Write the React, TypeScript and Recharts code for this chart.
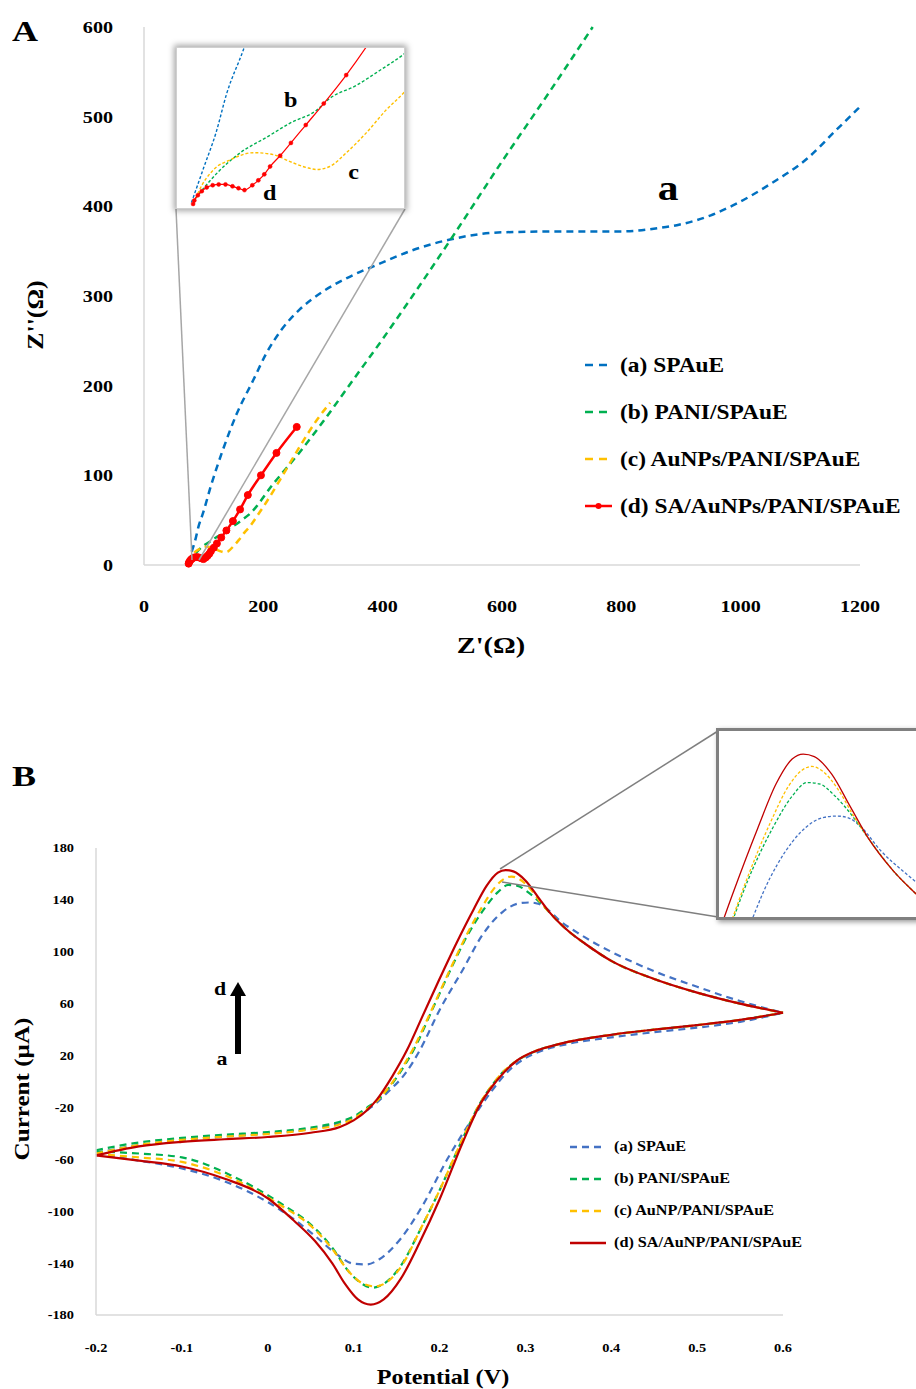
import React from 'react';
import { LineChart, Line, XAxis, YAxis } from 'recharts';

type P = [number, number][];

// ---------- Panel A: Nyquist data (Z', Z'') ----------
const nyqA: P = [[74, 2], [80, 15], [86, 28], [91, 42], [99, 58], [112, 88], [132, 128], [155, 168], [183, 206], [205, 236], [230, 262], [261, 285], [300, 305], [340, 320], [395, 336], [450, 351], [513, 363], [600, 371], [700, 372], [800, 372], [865, 376], [893, 379], [950, 390], [987, 401], [1050, 425], [1111, 453], [1160, 485], [1200, 511]];
const nyqB: P = [[74.7, 2.2], [79.5, 6.9], [86.7, 13.1], [97.7, 20.4], [110.7, 26.2], [121.8, 31.3], [134.7, 36.1], [141, 40.4], [153.9, 45.2], [165, 50.6], [177, 56.8], [216, 90], [260, 125], [298, 158], [350, 206], [400, 252], [450, 300], [513, 362], [600, 450], [680, 528], [752, 600]];
const nyqC: P = [[75.2, 1.8], [77.6, 6.2], [84.8, 14.2], [92.9, 17.8], [104, 20.4], [113.6, 19.7], [121.8, 17.1], [129.9, 14.9], [134.7, 14.2], [141, 15.3], [149.1, 20.4], [158.7, 27.7], [168.3, 36.1], [177, 42.6], [190, 55], [205, 70], [228, 95], [261, 132], [290, 162], [312, 181]];
const nyqD: P = [[74.8, 1.5], [75.4, 2.8], [77.1, 4.7], [79, 6.2], [81.4, 7.6], [84.3, 8.4], [87.2, 8.7], [90.5, 8.7], [93.9, 8], [96.8, 7.3], [99.7, 6.6], [103.5, 8.4], [106.4, 10.2], [109.3, 12.4], [112.1, 15.3], [117, 19.3], [122.2, 24], [129.4, 30.6], [138.1, 38.5], [149, 49], [161, 62], [174, 78], [196, 100], [222, 125], [256, 154]];

const nyqXTicks = [0, 200, 400, 600, 800, 1000, 1200];
const nyqYTicks = [0, 100, 200, 300, 400, 500, 600];

// ---------- Panel B: CV data (Potential V, Current µA) ----------
const cvA_fwd: P = [[-0.2, -55], [-0.15, -49], [-0.1, -45], [-0.05, -42.5], [0, -40], [0.05, -36.5], [0.08, -32.5], [0.1, -28], [0.12, -20], [0.14, -8], [0.16, 6], [0.177, 24], [0.2, 55], [0.227, 86], [0.25, 113], [0.274, 131], [0.294, 137.5], [0.305, 138], [0.315, 137], [0.324, 133.6], [0.34, 124], [0.36, 115], [0.38, 107], [0.4, 100], [0.45, 85], [0.5, 73], [0.55, 62], [0.6, 53]];
const cvA_rev: P = [[-0.2, -56], [-0.15, -61], [-0.1, -67], [-0.05, -77], [0, -93], [0.03, -106], [0.055, -119], [0.08, -133], [0.1, -140.5], [0.115, -141], [0.13, -137], [0.155, -121], [0.18, -96], [0.209, -60], [0.239, -28], [0.26, -8], [0.28, 8], [0.3, 18], [0.32, 24], [0.35, 29], [0.4, 34], [0.45, 38], [0.5, 41.5], [0.55, 46], [0.6, 53]];
const cvB_fwd: P = [[-0.2, -53], [-0.15, -47], [-0.1, -43.5], [-0.05, -41], [0, -39], [0.05, -35.5], [0.084, -31], [0.1, -27], [0.116, -20], [0.13, -13], [0.152, 5], [0.172, 27], [0.192, 56], [0.212, 85], [0.232, 112], [0.252, 133], [0.268, 146], [0.28, 151.5], [0.29, 151], [0.303, 146], [0.317, 138], [0.33, 129], [0.35, 116], [0.37, 106], [0.4, 93], [0.45, 79], [0.5, 68.5], [0.55, 60], [0.6, 53]];
const cvB_rev: P = [[-0.2, -54], [-0.15, -55.5], [-0.1, -58.5], [-0.044, -72], [0.014, -93.5], [0.053, -112], [0.075, -128], [0.095, -147], [0.11, -156], [0.122, -159], [0.135, -156], [0.155, -142], [0.177, -115], [0.2, -84], [0.227, -44], [0.247, -17], [0.26, -4], [0.275, 8], [0.29, 16], [0.31, 23], [0.34, 29], [0.4, 36], [0.45, 40], [0.5, 43.5], [0.55, 47.5], [0.6, 53]];
const cvC_fwd: P = [[-0.2, -55.5], [-0.15, -49], [-0.1, -45], [-0.05, -42.5], [0, -40.5], [0.05, -37], [0.084, -33], [0.1, -28.5], [0.116, -21], [0.13, -13], [0.15, 4], [0.17, 26], [0.19, 54], [0.21, 83], [0.23, 111], [0.25, 135], [0.265, 150], [0.276, 156.5], [0.284, 158], [0.293, 156], [0.305, 149], [0.318, 138], [0.33, 129], [0.35, 116], [0.37, 106], [0.4, 93], [0.45, 79], [0.5, 68.5], [0.55, 60], [0.6, 53]];
const cvC_rev: P = [[-0.2, -56], [-0.15, -58.5], [-0.1, -62], [-0.044, -74], [0.014, -95], [0.053, -113], [0.075, -129], [0.095, -147], [0.11, -155.5], [0.125, -158], [0.14, -154], [0.157, -141], [0.177, -115], [0.2, -84], [0.227, -44], [0.247, -17], [0.26, -4], [0.275, 8], [0.29, 16], [0.31, 23], [0.34, 29], [0.4, 36], [0.45, 40], [0.5, 43.5], [0.55, 47.5], [0.6, 53]];
const cvD_fwd: P = [[-0.2, -57], [-0.15, -50], [-0.1, -46.5], [-0.05, -44.5], [0, -42.8], [0.05, -39.5], [0.084, -35], [0.1, -30], [0.116, -22], [0.127, -14], [0.145, 4], [0.162, 24], [0.18, 50], [0.2, 79], [0.22, 107], [0.24, 133], [0.255, 151], [0.268, 161], [0.277, 163], [0.286, 162], [0.3, 155], [0.315, 142], [0.33, 129], [0.35, 116], [0.37, 106], [0.4, 93], [0.45, 79], [0.5, 68.5], [0.55, 60], [0.6, 53]];
const cvD_rev: P = [[-0.2, -57], [-0.15, -61], [-0.1, -65.5], [-0.05, -75], [0, -90], [0.03, -107], [0.055, -123], [0.075, -140], [0.09, -156], [0.105, -168], [0.12, -172], [0.135, -168], [0.155, -152], [0.177, -124], [0.2, -91], [0.227, -47], [0.247, -18], [0.26, -5], [0.275, 7], [0.29, 16], [0.31, 23], [0.34, 29], [0.4, 36], [0.45, 40], [0.5, 43.5], [0.55, 47.5], [0.6, 53]];

const cvXTicks = [-0.2, -0.1, 0, 0.1, 0.2, 0.3, 0.4, 0.5, 0.6];
const cvYTicks = [-180, -140, -100, -60, -20, 20, 60, 100, 140, 180];

const legendA = ['(a) SPAuE', '(b) PANI/SPAuE', '(c) AuNPs/PANI/SPAuE', '(d) SA/AuNPs/PANI/SPAuE'];
const legendB = ['(a) SPAuE', '(b) PANI/SPAuE', '(c) AuNP/PANI/SPAuE', '(d) SA/AuNP/PANI/SPAuE'];

const colA = ['#0070C0', '#00B050', '#FFC000', '#FF0000'];
const colB = ['#4472C4', '#00B050', '#FFC000', '#C00000'];

const FONT = "'Liberation Serif', 'Times New Roman', serif";
const pts = (arr: P) => arr.map(([x, y]) => ({ x, y }));

const makeTick = (size: number, sx: number) => (props: any) => {
  const { x, y, payload, textAnchor, verticalAnchor } = props;
  const dy = verticalAnchor === 'start' ? '0.71em' : '0.355em';
  return (
    <text transform={`translate(${x},${y}) scale(${sx},1)`} x={0} y={0} dy={dy} textAnchor={textAnchor}
      fontFamily={FONT} fontWeight={700} fontSize={size} fill="#000">{String(payload.value)}</text>
  );
};

const abs = (left: number, top: number, extra: React.CSSProperties = {}): React.CSSProperties => ({
  position: 'absolute', left, top, ...extra,
});

const txt = (size: number): React.CSSProperties => ({
  fontFamily: FONT, fontWeight: 700, fontSize: size, whiteSpace: 'nowrap', lineHeight: 1,
});

function LegendRow({ label, color, dash, dot, fontSize, width, sx }: { label: string; color: string; dash?: string; dot?: boolean; fontSize: number; width: number; sx: number }) {
  return (
    <div style={{ display: 'flex', alignItems: 'center', height: fontSize + 4 }}>
      <svg width={width} height={10} style={{ marginRight: 8 }}>
        <line x1={0} y1={5} x2={width} y2={5} stroke={color} strokeWidth={2.5} strokeDasharray={dash} />
        {dot && <circle cx={width / 2} cy={5} r={3} fill={color} />}
      </svg>
      <span style={{ ...txt(fontSize), display: 'inline-block', transform: `scaleX(${sx})`, transformOrigin: 'left center' }}>{label}</span>
    </div>
  );
}

export default function App() {
  const nyqSeries = [nyqA, nyqB, nyqC, nyqD];
  const cvSeries: [P, P][] = [[cvA_fwd, cvA_rev], [cvB_fwd, cvB_rev], [cvC_fwd, cvC_rev], [cvD_fwd, cvD_rev]];

  return (
    <div style={{ position: 'absolute', left: 0, top: 0, width: 916, height: 1389, overflow: 'hidden', background: '#fff' }}>
      {/* Panel A main */}
      <div style={abs(0, 0)}>
        <LineChart width={916} height={680} margin={{ top: 27, right: 56, bottom: 0, left: 0 }}>
          <XAxis type="number" dataKey="x" domain={[0, 1200]} ticks={nyqXTicks} interval={0} height={115}
            axisLine={{ stroke: '#d9d9d9', strokeWidth: 1.5 }} tickLine={false} tickSize={0} tickMargin={35} tick={makeTick(16.5, 1.22)} />
          <YAxis type="number" dataKey="y" domain={[0, 600]} ticks={nyqYTicks} interval={0} width={144}
            axisLine={{ stroke: '#d9d9d9', strokeWidth: 1.5 }} tickLine={false} tickSize={0} tickMargin={31} tick={makeTick(16.5, 1.22)} />
          {nyqSeries.map((s, i) => (
            <Line key={i} data={pts(s)} dataKey="y" type="monotone" stroke={colA[i]} strokeWidth={2.5}
              strokeDasharray={i === 3 ? undefined : '7 5'}
              dot={i === 3 ? { r: 3.5, fill: colA[3], stroke: colA[3], strokeWidth: 1 } : false}
              isAnimationActive={false} />
          ))}
        </LineChart>
      </div>

      {/* Panel B main */}
      <div style={abs(0, 780)}>
        <LineChart width={916} height={609} margin={{ top: 68, right: 133, bottom: 0, left: 0 }}>
          <XAxis type="number" dataKey="x" domain={[-0.2, 0.6]} ticks={cvXTicks} interval={0} height={74}
            axisLine={{ stroke: '#d9d9d9', strokeWidth: 1.5 }} tickLine={false} tickSize={0} tickMargin={28} tick={makeTick(12.5, 1.15)} />
          <YAxis type="number" dataKey="y" domain={[-180, 180]} ticks={cvYTicks} interval={0} width={96}
            axisLine={{ stroke: '#d9d9d9', strokeWidth: 1.5 }} tickLine={false} tickSize={0} tickMargin={22} tick={makeTick(12.5, 1.15)} />
          {cvSeries.map(([f, r], i) => [
            <Line key={'f' + i} data={pts(f)} dataKey="y" type="monotone" stroke={colB[i]} strokeWidth={2.2}
              strokeDasharray={i === 3 ? undefined : '7 5'} dot={false} isAnimationActive={false} />,
            <Line key={'r' + i} data={pts(r)} dataKey="y" type="monotone" stroke={colB[i]} strokeWidth={2.2}
              strokeDasharray={i === 3 ? undefined : '7 5'} dot={false} isAnimationActive={false} />,
          ])}
        </LineChart>
      </div>

      {/* connectors and arrow */}
      <svg width={916} height={1389} style={abs(0, 0, { pointerEvents: 'none' })}>
        <line x1={176} y1={209} x2={192} y2={560} stroke="#a6a6a6" strokeWidth={1.5} />
        <line x1={405} y1={209} x2={199} y2={560} stroke="#a6a6a6" strokeWidth={1.5} />
        <line x1={500} y1={869} x2={718} y2={731} stroke="#7f7f7f" strokeWidth={1.5} />
        <line x1={502} y1={882} x2={718} y2={917} stroke="#7f7f7f" strokeWidth={1.5} />
        <rect x={235} y={994} width={6} height={60} fill="#000" />
        <polygon points="230,996 246,996 238,982" fill="#000" />
      </svg>

      {/* Panel A inset */}
      <div style={abs(176, 47, { width: 229, height: 162, background: '#fff', border: '1px solid #d0d0d0', boxShadow: '0 0 6px 2px rgba(0,0,0,0.35)', boxSizing: 'border-box' })}>
        <LineChart width={227} height={160} margin={{ top: 0, right: 0, bottom: 0, left: 0 }}>
          <XAxis type="number" dataKey="x" domain={[67, 177]} hide allowDataOverflow />
          <YAxis type="number" dataKey="y" domain={[0, 59]} hide allowDataOverflow />
          {nyqSeries.map((s, i) => (
            <Line key={i} data={pts(s)} dataKey="y" type="monotone" stroke={colA[i]} strokeWidth={i === 3 ? 1.2 : 1.4}
              strokeDasharray={i === 3 ? undefined : '3 2'}
              dot={i === 3 ? { r: 2, fill: colA[3], stroke: colA[3], strokeWidth: 0.5 } : false}
              isAnimationActive={false} />
          ))}
        </LineChart>
        <div style={abs(108, 42, { ...txt(21), transform: 'scaleX(1.15)' })}>b</div>
        <div style={abs(172, 114, { ...txt(21), transform: 'scaleX(1.15)' })}>c</div>
        <div style={abs(87, 135, { ...txt(21), transform: 'scaleX(1.15)' })}>d</div>
      </div>

      {/* Panel B inset */}
      <div style={abs(716, 728, { width: 210, height: 192, background: '#fff', border: '3px solid #808080', boxShadow: '2px 2px 5px rgba(0,0,0,0.4)', boxSizing: 'border-box' })}>
        <LineChart width={204} height={186} margin={{ top: 0, right: 0, bottom: 0, left: 0 }}>
          <XAxis type="number" dataKey="x" domain={[0.2086, 0.3743]} hide allowDataOverflow />
          <YAxis type="number" dataKey="y" domain={[97.3, 172.3]} hide allowDataOverflow />
          {cvSeries.map(([f], i) => (
            <Line key={i} data={pts(f)} dataKey="y" type="monotone" stroke={colB[i]} strokeWidth={1.3}
              strokeDasharray={i === 3 ? undefined : '3 2'} dot={false} isAnimationActive={false} />
          ))}
        </LineChart>
      </div>

      {/* Texts */}
      <div style={abs(12, 16, { ...txt(30), transform: 'scaleX(1.2)', transformOrigin: 'left top' })}>A</div>
      <div style={abs(12, 761, { ...txt(30), transform: 'scaleX(1.2)', transformOrigin: 'left top' })}>B</div>
      <div style={abs(668, 188, { ...txt(36), transform: 'translate(-50%,-50%) scaleX(1.15)' })}>a</div>
      <div style={abs(35, 315, { ...txt(23), transform: 'translate(-50%,-50%) rotate(-90deg) scaleX(1.12)' })}>Z''(Ω)</div>
      <div style={abs(491, 645, { ...txt(24), transform: 'translate(-50%,-50%) scaleX(1.18)' })}>Z'(Ω)</div>
      <div style={abs(22, 1089, { ...txt(22), transform: 'translate(-50%,-50%) rotate(-90deg) scaleX(1.14)' })}>Current (µA)</div>
      <div style={abs(443, 1377, { ...txt(22), transform: 'translate(-50%,-50%) scaleX(1.1)' })}>Potential (V)</div>
      <div style={abs(220, 988, { ...txt(19), transform: 'translate(-50%,-50%) scaleX(1.15)' })}>d</div>
      <div style={abs(222, 1058, { ...txt(19), transform: 'translate(-50%,-50%) scaleX(1.15)' })}>a</div>

      {/* Legend A */}
      <div style={abs(585, 353, { display: 'flex', flexDirection: 'column', gap: 23 })}>
        {legendA.map((l, i) => (
          <LegendRow key={i} label={l} color={colA[i]} dash={i === 3 ? undefined : '8 6'} dot={i === 3} fontSize={20} width={27} sx={1.17} />
        ))}
      </div>

      {/* Legend B */}
      <div style={abs(570, 1137, { display: 'flex', flexDirection: 'column', gap: 13 })}>
        {legendB.map((l, i) => (
          <LegendRow key={i} label={l} color={colB[i]} dash={i === 3 ? undefined : '7 5'} fontSize={15} width={36} sx={1.08} />
        ))}
      </div>
    </div>
  );
}
